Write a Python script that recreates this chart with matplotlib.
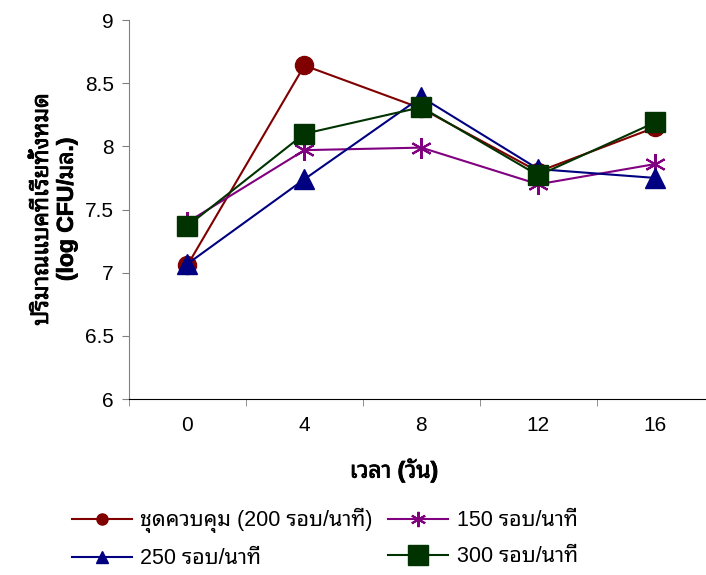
import matplotlib
matplotlib.use("Agg")
import matplotlib.pyplot as plt
import matplotlib.patheffects as pe
from matplotlib.lines import Line2D

plt.rcParams['font.family'] = ['Liberation Sans', 'Noto Sans Thai Looped', 'DejaVu Sans']

days = ["0", "4", "8", "12", "16"]
control_200 = [7.06, 8.64, 8.30, 7.80, 8.15]
rpm_150 = [7.40, 7.97, 7.99, 7.70, 7.86]
rpm_250 = [7.07, 7.74, 8.39, 7.82, 7.75]
rpm_300 = [7.37, 8.10, 8.31, 7.77, 8.19]

labels = ["ชุดควบคุม (200 รอบ/นาที)", "150 รอบ/นาที", "250 รอบ/นาที", "300 รอบ/นาที"]

fig = plt.figure(figsize=(7.06, 5.75), dpi=100)
ax = fig.add_axes([0.1827, 0.306, 0.8283, 0.6592])

x = range(len(days))
ax.plot(x, control_200, color="#800000", lw=1.5, marker="o", ms=13,
        mfc="#800000", mec="#800000")
ax.plot(x, rpm_150, color="#800080", lw=1.5, marker=(6, 2, 0), ms=15,
        mec="#800080", mew=1.5)
ax.plot(x, rpm_250, color="#000080", lw=1.5, marker="^", ms=14,
        mfc="#000080", mec="#000080")
ax.plot(x, rpm_300, color="#003300", lw=1.5, marker="s", ms=14,
        mfc="#003300", mec="#003300")

ax.set_xlim(-0.5, 4.5)
ax.set_ylim(6, 9)
ax.set_xticks(list(x))
ax.set_xticklabels(days)
ax.set_xticks([i + 0.5 for i in range(-1, 5)], minor=True)
ax.set_yticks([6, 6.5, 7, 7.5, 8, 8.5, 9])
ax.set_yticklabels(["6", "6.5", "7", "7.5", "8", "8.5", "9"])
ax.tick_params(axis="x", which="major", length=0, pad=12, labelsize=15)
ax.tick_params(axis="x", which="minor", length=5, color="#808080")
ax.tick_params(axis="y", length=5, color="#808080", pad=6, labelsize=15)
for s in ["top", "right"]:
    ax.spines[s].set_visible(False)
ax.spines["left"].set_color("#808080")
ax.spines["bottom"].set_color("black")

yl = ax.set_ylabel("ปริมาณแบคทีเรียทั้งหมด\n(log CFU/มล.)", fontsize=16.5,
                   fontweight="bold", labelpad=5, linespacing=1.1)
yl.set_path_effects([pe.withStroke(linewidth=0.6, foreground="black")])
xl = fig.text(0.558, 0.182, "เวลา (วัน)", fontsize=16.5, fontweight="bold",
              ha="center", va="center")
xl.set_path_effects([pe.withStroke(linewidth=0.6, foreground="black")])

# legend handles with Excel-like marker sizes, order fills columns
h_ctrl = Line2D([], [], color="#800000", lw=1.5, marker="o", ms=8, mfc="#800000", mec="#800000")
h_150 = Line2D([], [], color="#800080", lw=1.5, marker=(6, 2, 0), ms=11, mec="#800080", mew=1.5)
h_250 = Line2D([], [], color="#000080", lw=1.5, marker="^", ms=9, mfc="#000080", mec="#000080")
h_300 = Line2D([], [], color="#003300", lw=1.5, marker="s", ms=14, mfc="#003300", mec="#003300")
fig.legend([h_ctrl, h_250, h_150, h_300],
           [labels[0], labels[2], labels[1], labels[3]],
           ncol=2, loc="center", bbox_to_anchor=(0.46, 0.063),
           frameon=False, fontsize=15.5, handlelength=2.8, handletextpad=0.4,
           columnspacing=0.7, labelspacing=0.7)

fig.savefig("out.png")
